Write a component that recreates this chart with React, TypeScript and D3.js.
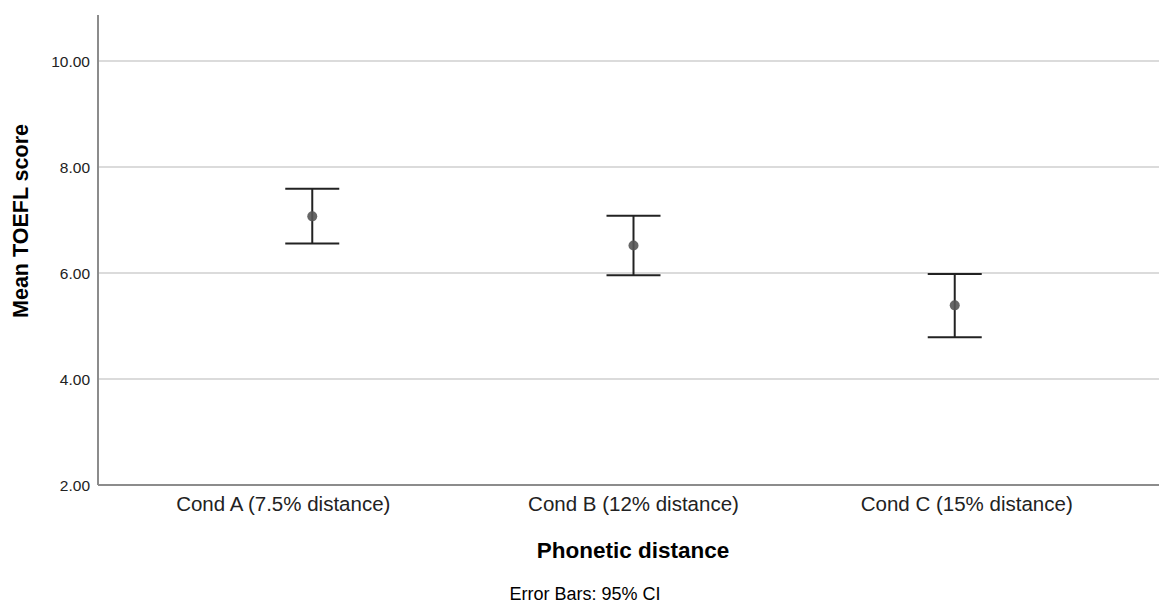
import React from 'react'
import * as d3 from 'd3'

// Data
const categories = ['Cond A (7.5% distance)', 'Cond B (12% distance)', 'Cond C (15% distance)']
const means = [7.07, 6.52, 5.39]
const ciLower = [6.56, 5.96, 4.79]
const ciUpper = [7.59, 7.08, 5.98]
const yTicks = [2, 4, 6, 8, 10]

const W = 1159
const H = 603

const App = () => {
  const margin = { top: 15, right: 0, bottom: 118, left: 98 }
  const x = d3.scalePoint<string>()
    .domain(categories)
    .range([margin.left, W + 10])
    .padding(0.667)
  const y = d3.scaleLinear()
    .domain([2, 10.87])
    .range([H - margin.bottom, margin.top])

  // SPSS places the category labels a little off the marker centres
  const labelShift = [-29, 0, 12]

  const font = 'Liberation Sans, Arial, sans-serif'
  const capHalf = 27

  return (
    <div style={{ position: 'absolute', left: 0, top: 0 }}>
      <svg width={W} height={H} style={{ display: 'block', background: '#fff' }}>
        {/* gridlines */}
        {yTicks.filter(t => t > 2).map(t => (
          <line key={t} x1={margin.left} x2={W} y1={y(t)} y2={y(t)} stroke="#cfcfcf" strokeWidth={1.5} />
        ))}

        {/* axes */}
        <line x1={margin.left} x2={margin.left} y1={margin.top} y2={y(2)} stroke="#8c8c8c" strokeWidth={2} />
        <line x1={margin.left} x2={W} y1={y(2)} y2={y(2)} stroke="#8c8c8c" strokeWidth={2} />

        {/* y tick labels */}
        {yTicks.map(t => (
          <text key={t} x={margin.left - 8} y={y(t)} dy="0.36em" textAnchor="end"
            fontFamily={font} fontSize={15.5} fill="#222">{t.toFixed(2)}</text>
        ))}

        {/* x tick labels */}
        {categories.map((c, i) => (
          <text key={c} x={(x(c) as number) + labelShift[i]} y={y(2) + 26} textAnchor="middle"
            fontFamily={font} fontSize={20.5} fill="#222">{c}</text>
        ))}

        {/* error bars */}
        {categories.map((c, i) => {
          const cx = x(c) as number
          return (
            <g key={c} stroke="#222" strokeWidth={2}>
              <line x1={cx} x2={cx} y1={y(ciUpper[i])} y2={y(ciLower[i])} />
              <line x1={cx - capHalf} x2={cx + capHalf} y1={y(ciUpper[i])} y2={y(ciUpper[i])} />
              <line x1={cx - capHalf} x2={cx + capHalf} y1={y(ciLower[i])} y2={y(ciLower[i])} />
              <circle cx={cx} cy={y(means[i])} r={5} fill="#555" stroke="none" opacity={0.9} />
            </g>
          )
        })}

        {/* axis titles */}
        <text transform={`translate(28,221) rotate(-90)`} textAnchor="middle"
          fontFamily={font} fontSize={21.5} fontWeight="bold" fill="#000">Mean TOEFL score</text>
        <text x={633} y={558} textAnchor="middle"
          fontFamily={font} fontSize={22.5} fontWeight="bold" fill="#000">Phonetic distance</text>
        <text x={585} y={600} textAnchor="middle"
          fontFamily={font} fontSize={18} fill="#000">Error Bars: 95% CI</text>
      </svg>
    </div>
  )
}

export default App
